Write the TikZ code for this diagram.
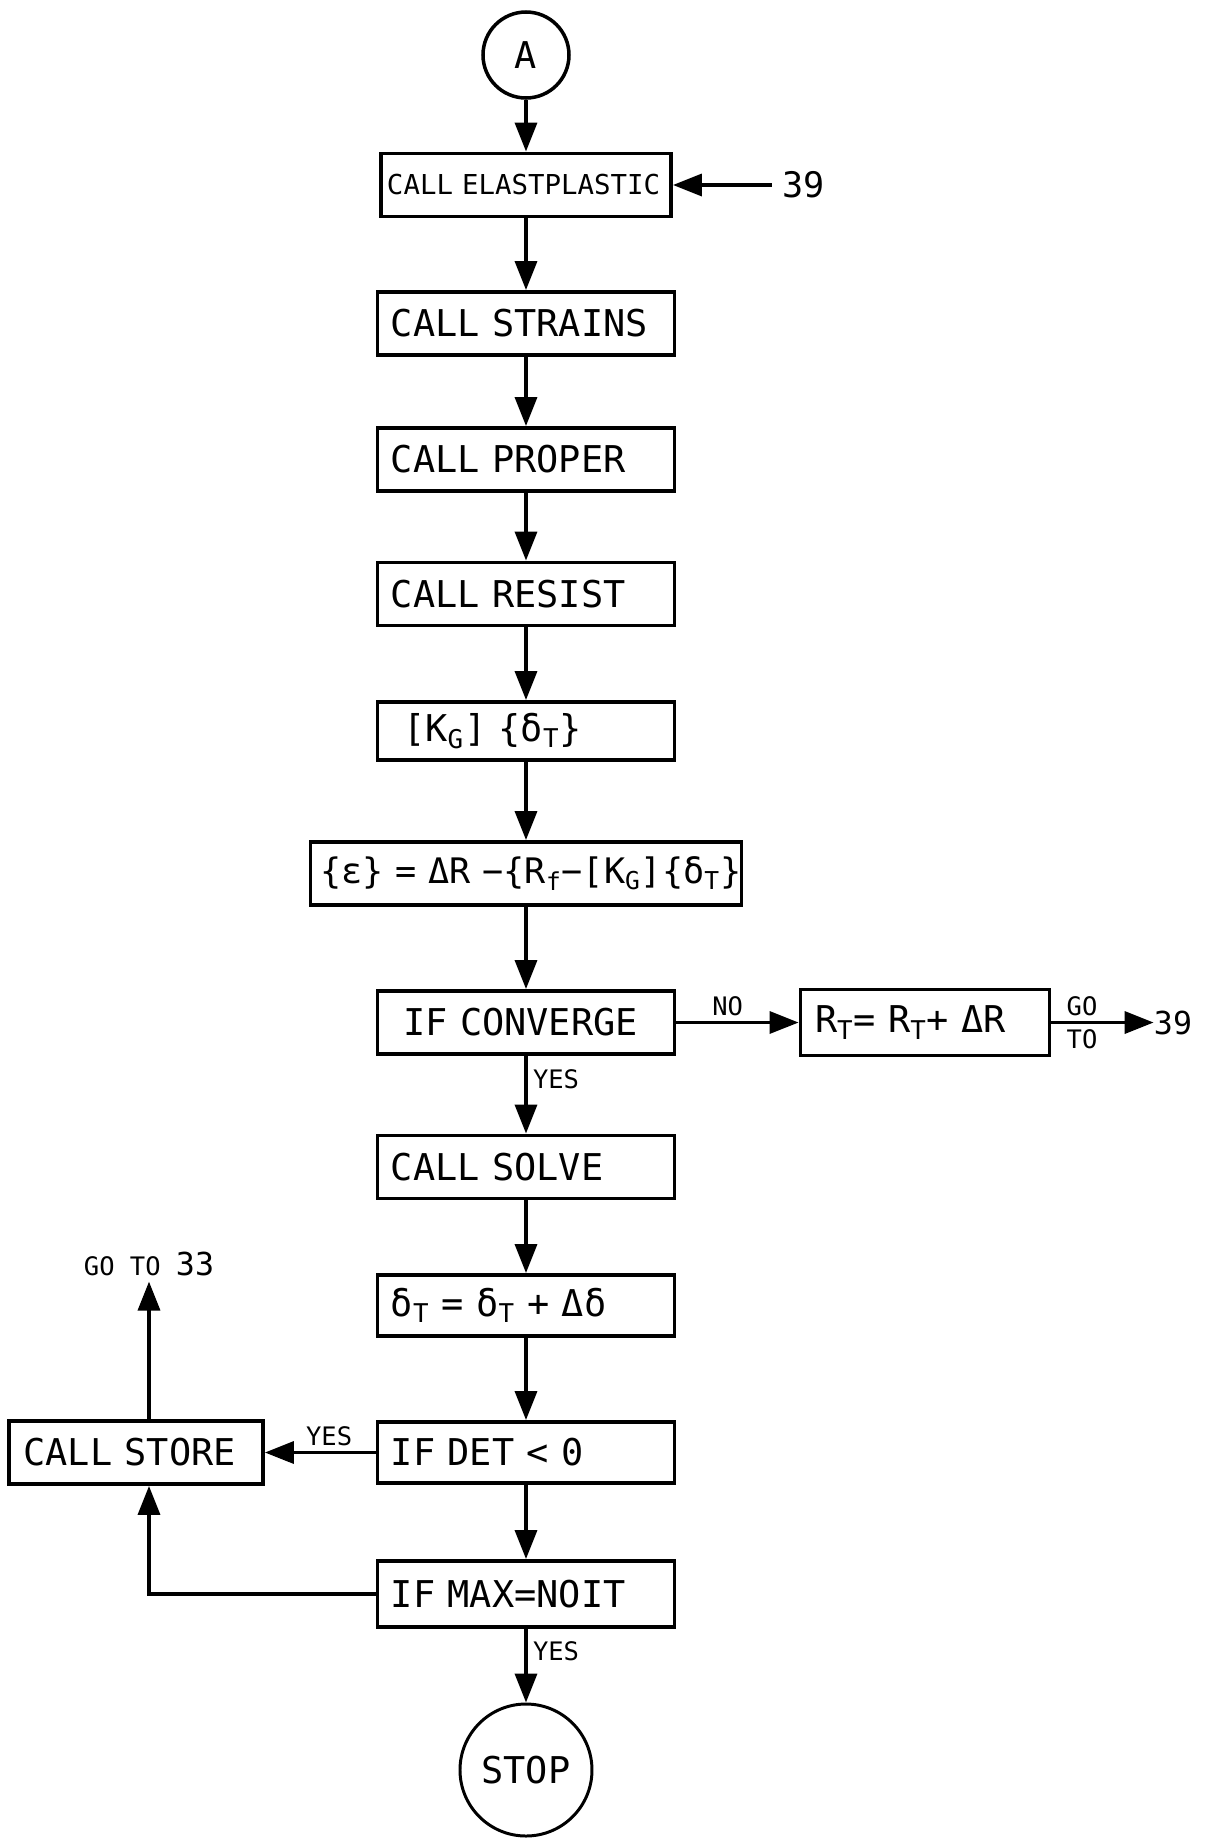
\documentclass[tikz,border=0pt]{standalone}
\usepackage{fontspec}
\setmainfont{DejaVu Sans Mono}
\usepackage{tikz}
\usetikzlibrary{positioning, arrows.meta}

\begin{document}
\begin{tikzpicture}[on grid, node distance=2.8cm,
   >={Triangle[length=0.58cm, width=0.44cm]},
   box/.style={draw, line width=2.2pt, minimum height=1.26cm, text width=5.4cm,
      inner xsep=0.27cm, align=left, font=\fontsize{21}{25}\selectfont},
   term/.style={draw, circle, line width=2pt, inner sep=0pt, font=\fontsize{21}{25}\selectfont},
   lbl/.style={font=\fontsize{14.5}{16}\selectfont, inner sep=3pt},
   num/.style={font=\fontsize{20}{22}\selectfont, inner sep=0.2cm}]
   \useasboundingbox (-10.52,1.1) rectangle (13.58,-35.66);

   % connector A and the main column
   \node[term, minimum size=1.72cm] (A) {A};
   \node[box, font=\fontsize{15.6}{18}\selectfont, text width=5.56cm, inner xsep=0.12cm] (elast) [below=2.6cm of A] {\mbox{CALL ELASTPLASTIC}};
   \node[box] (strains) [below=2.77cm of elast] {CALL STRAINS};
   \node[box] (proper) [below=2.72cm of strains] {CALL PROPER};
   \node[box] (resist) [below=2.69cm of proper] {CALL RESIST};
   \node[box, minimum height=1.16cm] (kg) [below=2.74cm of resist] {\ [K\textsubscript{G}] \{δ\textsubscript{T}\}};
   \node[box, font=\fontsize{20}{24}\selectfont, text width=8.22cm, inner xsep=0.2cm] (eps) [below=2.85cm of kg]
      {\mbox{\{ε\} = ΔR −\{R\textsubscript{f}−[K\textsubscript{G}]\{δ\textsubscript{T}\}}};
   \node[box] (conv) [below=2.98cm of eps] {\ IF CONVERGE};
   \node[box] (solve) [below=2.89cm of conv] {CALL SOLVE};
   \node[box, minimum height=1.22cm] (delta) [below=2.77cm of solve] {δ\textsubscript{T} = δ\textsubscript{T} + Δδ};
   \node[box, minimum height=1.22cm] (det) [below=2.94cm of delta] {IF DET < 0};
   \node[box, minimum height=1.32cm] (maxit) [below=2.83cm of det] {IF MAX=NOIT};
   \node[term, minimum size=2.64cm, line width=1.7pt] (stop) [below=3.52cm of maxit] {STOP};

   % side branches
   \node[num] (in39) [right=5.55cm of elast] {39};
   \node[box, text width=4.4cm, inner xsep=0.29cm, minimum height=1.32cm] (rt) [right=7.98cm of conv]
      {R\textsubscript{T}= R\textsubscript{T}+ ΔR};
   \node[num, inner sep=0pt, font=\fontsize{18}{20}\selectfont] (out39) [right=4.96cm of rt] {39};
   \node[box, text width=4.5cm, inner xsep=0.29cm] (store) [left=7.8cm of det] {CALL STORE};
   \node[lbl] (go33) [above=3.77cm of store, xshift=0.26cm] {GO TO {\fontsize{18}{20}\selectfont 33}};

   \path[->, line width=2pt]
    (A) edge (elast)
    (in39) edge (elast)
    (elast) edge (strains)
    (strains) edge (proper)
    (proper) edge (resist)
    (resist) edge (kg)
    (kg) edge (eps)
    (eps) edge (conv)
    % convergence test
    (conv) edge node[lbl, above, pos=0.42] {NO} (rt)
    (rt) edge node[lbl, above, pos=0.3] {GO} node[lbl, below, pos=0.3] {TO} (out39)
    (conv) edge node[lbl, right, pos=0.3] {YES} (solve)
    (solve) edge (delta)
    (delta) edge (det)
    % determinant and iteration tests
    (det) edge node[lbl, above, pos=0.42] {YES} (store)
    (det) edge (maxit)
    (go33 |- store.north) edge (go33)
    (maxit) edge node[lbl, right, pos=0.3] {YES} (stop);
   \draw[->, line width=2pt] (maxit.west) -| (go33 |- store.south);
\end{tikzpicture}
\end{document}
